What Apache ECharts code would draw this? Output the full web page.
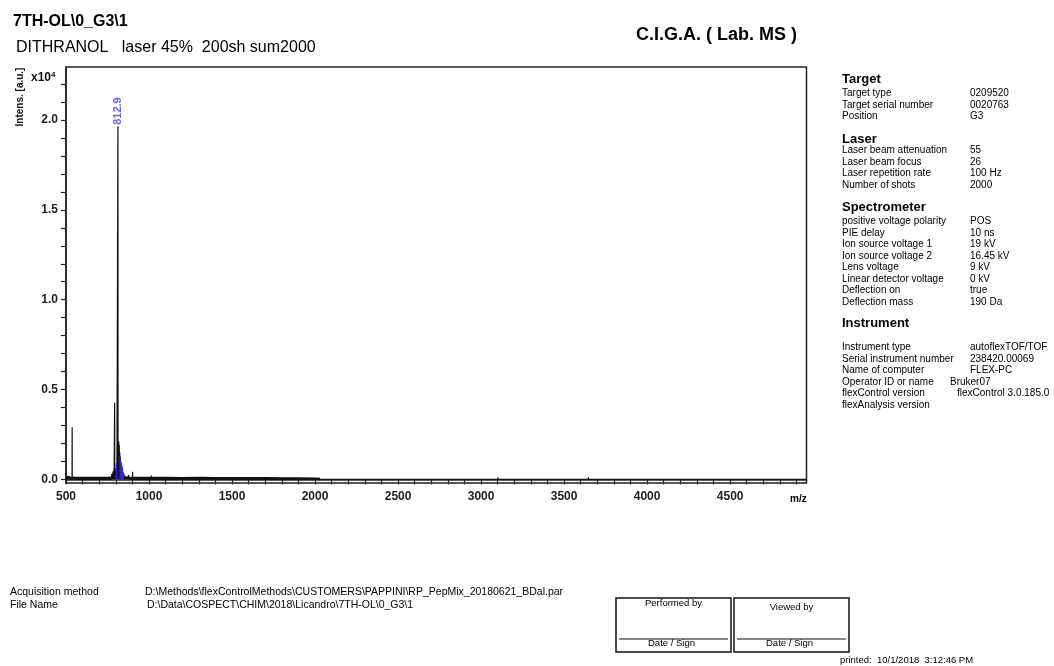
<!DOCTYPE html>
<html>
<head>
<meta charset="utf-8">
<script src="https://cdn.jsdelivr.net/npm/echarts@6/dist/echarts.min.js"></script>
<style>
  html, body { margin: 0; padding: 0; background: #fff; }
  #chart { width: 1054px; height: 666px; }
</style>
</head>
<body>
<div id="chart"></div>
<script>
// ---- spectrum values (m/z, intensity in a.u.) ----
const peakMz  = [503, 512, 521, 537, 548, 775, 784, 789, 793, 801, 806, 812.9, 818, 821, 824, 827, 830, 833, 836, 840, 844, 849, 856, 866, 878, 901, 1014, 1560, 1640, 1700, 1765];
const peakInt = [150, 200, 180, 2900, 150, 300, 450, 500, 4260, 600, 800, 19650, 2100, 1900, 1500, 1200, 1000, 850, 700, 550, 400, 300, 200, 150, 250, 420, 220, 120, 120, 130, 120];

// isotope / fragment envelope shown in blue
const blueMz  = [803, 806, 826, 829, 832, 835, 838, 841, 844];
const blueInt = [900, 600, 1300, 1000, 900, 800, 700, 550, 350];

// chemical noise floor in the low-mass region
const noiseMz  = [500, 540, 580, 620, 660, 700, 740, 780, 820, 860, 900, 950, 1000, 1100, 1200, 1300, 1400, 1500, 1600, 1700, 1800, 1900, 2000, 2030];
const noiseInt = [80, 75, 85, 75, 80, 85, 80, 90, 95, 85, 80, 75, 80, 75, 70, 75, 70, 70, 65, 65, 60, 55, 45, 20];

// small spikes in the high-mass region
const spikeMz  = [2040, 2110, 2190, 2260, 2350, 2430, 2490, 2560, 2640, 2700, 2790, 2860, 2930, 3054, 3102, 3119, 3175, 3245, 3275, 3456, 3646, 4299, 4781, 4872];
const spikeInt = [60, 80, 50, 70, 60, 50, 80, 60, 70, 50, 60, 70, 50, 110, 120, 110, 110, 110, 100, 110, 120, 110, 100, 110];

// m/z range of the acquired spectrum
const spanMz = [500, 4960];

const labelledMz = [812.9];

// axis ticks (m/z and intensity)
const xTickLabels = [500, 1000, 1500, 2000, 2500, 3000, 3500, 4000, 4500];
const xMinorTicks = [500, 600, 700, 800, 900, 1000, 1100, 1200, 1300, 1400, 1500, 1600, 1700, 1800, 1900, 2000, 2100, 2200, 2300, 2400, 2500, 2600, 2700, 2800, 2900, 3000, 3100, 3200, 3300, 3400, 3500, 3600, 3700, 3800, 3900, 4000, 4100, 4200, 4300, 4400, 4500, 4600, 4700, 4800, 4900];
const yTickLabels = [0, 5000, 10000, 15000, 20000];
const yMinorTicks = [0, 1000, 2000, 3000, 4000, 5000, 6000, 7000, 8000, 9000, 10000, 11000, 12000, 13000, 14000, 15000, 16000, 17000, 18000, 19000, 20000, 21000, 22000];

// ---- header / footer texts ----
const titleText = '7TH-OL\\0_G3\\1';
const subtitleText = 'DITHRANOL   laser 45%  200sh sum2000';
const labText = 'C.I.G.A. ( Lab. MS )';

const panelSections = [
  { name: 'Target',
    keys: ['Target type', 'Target serial number', 'Position'],
    vals: ['0209520', '0020763', 'G3'] },
  { name: 'Laser',
    keys: ['Laser beam attenuation', 'Laser beam focus', 'Laser repetition rate', 'Number of shots'],
    vals: ['55', '26', '100 Hz', '2000'] },
  { name: 'Spectrometer',
    keys: ['positive voltage polarity', 'PIE delay', 'Ion source voltage 1', 'Ion source voltage 2', 'Lens voltage', 'Linear detector voltage', 'Deflection on', 'Deflection mass'],
    vals: ['POS', '10 ns', '19 kV', '16.45 kV', '9 kV', '0 kV', 'true', '190 Da'] },
  { name: 'Instrument',
    keys: ['Instrument type', 'Serial instrument number', 'Name of computer', 'Operator ID or name', 'flexControl version', 'flexAnalysis version'],
    vals: ['autoflexTOF/TOF', '238420.00069', 'FLEX-PC', 'Bruker07', 'flexControl 3.0.185.0', ''] }
];

const acqLabel = 'Acquisition method';
const acqPath = 'D:\\Methods\\flexControlMethods\\CUSTOMERS\\PAPPINI\\RP_PepMix_20180621_BDal.par';
const fileLabel = 'File Name';
const filePath = 'D:\\Data\\COSPECT\\CHIM\\2018\\Licandro\\7TH-OL\\0_G3\\1';
const printedText = 'printed:  10/1/2018  3:12:46 PM';

// ---- build line data: each peak is a narrow stick on the baseline ----
function stickPoints(mzs, ints) {
  const pts = [];
  mzs.forEach((m, i) => {
    pts.push([m - 0.5, 0], [m, ints[i]], [m + 0.5, 0]);
  });
  return pts;
}

const mainPts = stickPoints(peakMz, peakInt)
  .concat(stickPoints(spikeMz, spikeInt))
  .concat(spanMz.map(m => [m, 0]))
  .sort((a, b) => a[0] - b[0]);

const noisePts = noiseMz.map((m, i) => [m, noiseInt[i]]);
const bluePts = stickPoints(blueMz, blueInt);

// peak annotations taken from the peak list
const labelPts = labelledMz.map(m => [m, peakInt[peakMz.indexOf(m)]]);

// ---- graphic texts ----
const FF = 'Liberation Sans';
const graphics = [];
function txt(x, y, text, size, weight, extra) {
  graphics.push({
    type: 'text', x: x, y: y, silent: true,
    style: Object.assign({
      text: text, fontSize: size, fontWeight: weight || 'normal',
      fontFamily: FF, fill: '#000', verticalAlign: 'middle'
    }, extra || {})
  });
}

txt(13, 22, titleText, 16, 'bold');
txt(16, 48, subtitleText, 16, 'normal');
txt(636, 35, labText, 18, 'bold');

// y-axis title and scale factor
graphics.push({
  type: 'text', x: 20, y: 97, rotation: Math.PI / 2, silent: true,
  style: { text: 'Intens. [a.u.]', fontSize: 10, fontWeight: 'bold', fontFamily: FF, fill: '#111',
           align: 'center', verticalAlign: 'middle' }
});
graphics.push({
  type: 'text', x: 31, y: 78, silent: true,
  style: {
    text: '{a|x10}{b|4}', fontFamily: FF, fill: '#111', verticalAlign: 'middle',
    rich: {
      a: { fontSize: 12, fontWeight: 'bold', fontFamily: FF, fill: '#111' },
      b: { fontSize: 8, fontWeight: 'bold', fontFamily: FF, fill: '#111', verticalAlign: 'top', padding: [0, 0, 6, 0] }
    }
  }
});
txt(790, 499, 'm/z', 10, 'bold');

// instrument panel
const headerY = [79, 139, 207, 323];
const firstRowGap = [14.3, 11.5, 14.5, 24.7];
const rowStep = 11.5;
const valueX = { 'Bruker07': 950, 'flexControl 3.0.185.0': 957 };
panelSections.forEach((sec, s) => {
  txt(842, headerY[s], sec.name, 13, 'bold');
  sec.keys.forEach((k, r) => {
    const y = headerY[s] + firstRowGap[s] + r * rowStep;
    txt(842, y, k, 10, 'normal');
    const v = sec.vals[r];
    if (v) txt(valueX[v] || 970, y, v, 10, 'normal');
  });
});

// acquisition footer
txt(10, 592, acqLabel, 10.5, 'normal');
txt(145, 592, acqPath, 10.5, 'normal');
txt(10, 605, fileLabel, 10.5, 'normal');
txt(147, 605, filePath, 10.5, 'normal');

// signature boxes
[[616, 115, 'Performed by', 603], [734, 115, 'Viewed by', 607]].forEach(b => {
  graphics.push({ type: 'rect', shape: { x: b[0], y: 598, width: b[1], height: 54 }, silent: true,
                  style: { fill: 'none', stroke: '#111', lineWidth: 1.5 } });
  graphics.push({ type: 'line', shape: { x1: b[0] + 3, y1: 639, x2: b[0] + b[1] - 3, y2: 639 }, silent: true,
                  style: { stroke: '#111', lineWidth: 1.2 } });
  txt(b[0] + b[1] / 2, b[3], b[2], 9.5, 'normal', { align: 'center' });
  txt(b[0] + b[1] / 2 - 2, 643, 'Date / Sign', 9.5, 'normal', { align: 'center' });
});
txt(840, 660, printedText, 9.5, 'normal');

// ---- chart ----
const chart = echarts.init(document.getElementById('chart'), null, { renderer: 'canvas' });
chart.setOption({
  animation: false,
  backgroundColor: '#fff',
  grid: {
    left: 66, right: 247.5, top: 67, bottom: 183,
    show: true, borderColor: '#222', borderWidth: 1.5, backgroundColor: 'transparent'
  },
  xAxis: {
    type: 'value', min: 500, max: 4960,
    axisLine: { show: true, lineStyle: { color: '#222', width: 1.5 } },
    axisTick: { show: true, length: 5, customValues: xMinorTicks, lineStyle: { color: '#222', width: 1.2 } },
    axisLabel: {
      customValues: xTickLabels, margin: 8, color: '#222',
      fontSize: 12, fontWeight: 'bold', fontFamily: FF,
      formatter: v => String(v)
    },
    splitLine: { show: false }
  },
  yAxis: {
    type: 'value', min: -200, max: 22950,
    axisLine: { show: true, lineStyle: { color: '#222', width: 1.5 } },
    axisTick: { show: true, length: 5, customValues: yMinorTicks, lineStyle: { color: '#222', width: 1.2 } },
    axisLabel: {
      customValues: yTickLabels, margin: 8, color: '#222',
      fontSize: 12, fontWeight: 'bold', fontFamily: FF,
      formatter: v => (v / 10000).toFixed(1)
    },
    splitLine: { show: false }
  },
  series: [
    {
      type: 'line', data: noisePts, showSymbol: false, symbol: 'none',
      clip: true, z: 2,
      lineStyle: { color: '#111', width: 2.4 },
      emphasis: { disabled: true }
    },
    {
      type: 'line', data: mainPts, showSymbol: false, symbol: 'none',
      sampling: null, clip: true, z: 3,
      lineStyle: { color: '#111', width: 1.2 },
      emphasis: { disabled: true }
    },
    {
      type: 'line', data: bluePts, showSymbol: false, symbol: 'none',
      clip: true, z: 4,
      lineStyle: { color: '#2a2ad0', width: 1 },
      emphasis: { disabled: true }
    },
    {
      type: 'scatter', data: labelPts, symbolSize: 1, z: 5,
      itemStyle: { color: 'rgba(0,0,0,0)' },
      emphasis: { disabled: true },
      label: {
        show: true,
        formatter: p => String(p.value[0]),
        position: 'top',
        distance: 1,
        rotate: 90,
        align: 'left',
        verticalAlign: 'middle',
        color: '#3a3ee0',
        fontSize: 11,
        fontWeight: 'bold',
        fontFamily: FF
      }
    }
  ],
  graphic: graphics
});
</script>
</body>
</html>
